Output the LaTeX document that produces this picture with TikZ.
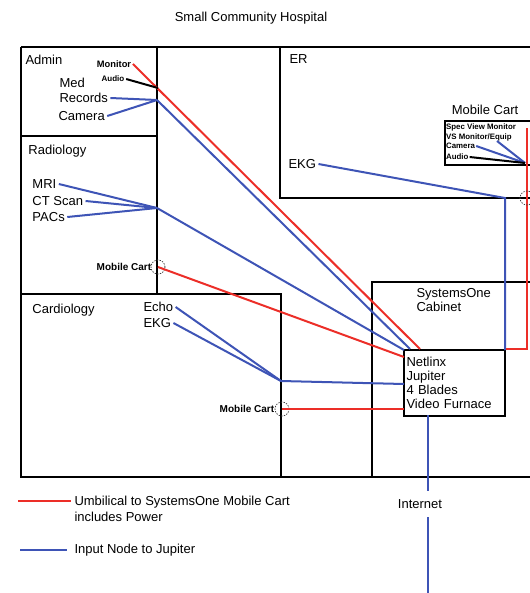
\documentclass[tikz,border=0pt]{standalone}
\usepackage{fontspec}
\setmainfont{Liberation Sans}
\definecolor{umbred}{RGB}{236,46,40}
\definecolor{inblue}{RGB}{62,84,182}
\tikzset{every picture/.style={line width=0.75pt}}
\tikzset{
  wall/.style={draw=black, line width=2pt},
  umb/.style={draw=umbred, line width=1.5pt},
  inp/.style={draw=inblue, line width=1.5pt},
  aud/.style={draw=black, line width=1.5pt},
  lbl/.style={font=\fontsize{9.75}{10.5}\selectfont, inner sep=1.5pt, align=left},
  tinylbl/.style={font=\fontsize{7}{8}\selectfont\bfseries, inner sep=1pt},
  cartlbl/.style={font=\fontsize{5.9}{7}\selectfont\bfseries, inner sep=0.5pt},
  plug/.style={draw=black!75, dash pattern=on 1pt off 1pt, line width=0.6pt, circle, minimum size=10.5pt, inner sep=0pt}
}

\begin{document}
\begin{tikzpicture}[
            x=0.75pt,
            y=0.75pt,
            yscale=-1,
            xscale=1,
            every node/.style={text=black},
            line width=0.75pt
        ]
            \useasboundingbox (0,0) rectangle (530,593);
            \node[lbl] (title) at (251,18) {Small Community Hospital};

            % rooms
            \draw[wall] (21,47) -- (540,47);
            \draw[wall] (21,47) -- (21,477) -- (540,477);
            \draw[wall] (21,136) -- (157,136);
            \draw[wall] (157,47) -- (157,294);
            \draw[wall] (21,294) -- (281,294) -- (281,477);
            \draw[wall] (280,47) -- (280,198) -- (540,198);
            \draw[wall] (372,477) -- (372,282) -- (540,282);
            \draw[line width=1.5pt] (445,121) rectangle (540,165);

            % room labels
            \node[lbl, anchor=west] (admin) at (23,60) {Admin};
            \node[lbl, anchor=west] (radiology) at (26,151) {Radiology};
            \node[lbl, anchor=west] (cardiology) at (30,310) {Cardiology};
            \node[lbl, anchor=west] (er) at (287,59) {ER};
            \node[lbl, anchor=west] (cabinet) at (414,300) {SystemsOne\\Cabinet};
            \node[lbl] (carthead) at (485,110) {Mobile Cart};

            % jupiter
            \node[draw, line width=1.5pt, fill=white, anchor=north west, minimum width=75.75pt, minimum height=49.5pt, text width=72pt, inner sep=1.5pt, align=left, font=\fontsize{9.75}{10.5}\selectfont] (jupiter) at (403,349) {Netlinx\\Jupiter\\4 Blades\\Video Furnace};
            \coordinate (jmon) at (420,349);
            \coordinate (jadm) at (410,349);
            \coordinate (jrad) at (404,350);
            \coordinate (jrcart) at (404,357);
            \coordinate (jcard) at (404,384);
            \coordinate (jccart) at (404,409);
            \coordinate (jer) at (505,350);
            \coordinate (jnet) at (428,415);

            % admin inputs
            \node[tinylbl] (monitor) at (114,64) {Monitor};
            \node[tinylbl, font=\fontsize{6}{7}\selectfont\bfseries] (audio) at (113,79) {Audio};
            \node[lbl, anchor=west] (med) at (57,83) {Med};
            \node[lbl, anchor=west] (records) at (57,98) {Records};
            \node[lbl, anchor=west] (camera) at (56,116) {Camera};
            \coordinate (admjoin) at (158,88);
            \coordinate (admhub) at (157,100);
            \draw[umb] (monitor.east) -- (jmon);
            \draw[aud] (audio.east) -- (admjoin);
            \draw[inp] (records.east) -- (admhub);
            \draw[inp] (camera.east) -- (admhub);
            \draw[inp] (admhub) -- (jadm);

            % radiology inputs
            \node[lbl, anchor=west] (mri) at (30,184) {MRI};
            \node[lbl, anchor=west] (ctscan) at (30,201) {CT Scan};
            \node[lbl, anchor=west] (pacs) at (30,217) {PACs};
            \coordinate (radhub) at (157,208);
            \draw[inp] (mri.east) -- (radhub);
            \draw[inp] (ctscan.east) -- (radhub);
            \draw[inp] (pacs.east) -- (radhub);
            \draw[inp] (radhub) -- (jrad);
            \node[tinylbl, font=\fontsize{7.5}{8}\selectfont\bfseries, anchor=east] (radcart) at (153,267) {Mobile Cart};
            \node[plug] (radplug) at (158,267) {};
            \draw[umb] (radplug.center) -- (jrcart);

            % cardiology inputs
            \node[lbl, anchor=west] (echo) at (141,307) {Echo};
            \node[lbl, anchor=west] (cardekg) at (141,323) {EKG};
            \coordinate (cardhub) at (281,381);
            \draw[inp] (echo.east) -- (cardhub);
            \draw[inp] (cardekg.east) -- (cardhub);
            \draw[inp] (cardhub) -- (jcard);
            \node[tinylbl, font=\fontsize{7.5}{8}\selectfont\bfseries, anchor=east] (cardcart) at (276,409) {Mobile Cart};
            \node[plug] (cardplug) at (282,409) {};
            \draw[umb] (cardplug.center) -- (jccart);

            % ER inputs
            \node[lbl, anchor=west] (erekg) at (286,164) {EKG};
            \coordinate (erbend) at (505,198);
            \draw[inp] (erekg.east) -- (erbend) -- (jer);
            \node[cartlbl, anchor=west] (specview) at (445,127) {Spec View Monitor};
            \node[cartlbl, anchor=west] (vsmon) at (445,137) {VS Monitor/Equip};
            \node[cartlbl, anchor=west] (cartcam) at (445,146) {Camera};
            \node[cartlbl, anchor=west] (cartaud) at (445,157) {Audio};
            \coordinate (vsfoot) at (497,141);
            \coordinate (carthub) at (525,163);
            \coordinate (cartumb) at (527,128);
            \draw[inp] (vsfoot) -- (carthub);
            \draw[inp] (cartcam.east) -- (carthub);
            \draw[aud] (cartaud.east) -- (carthub);
            \draw[umb] (cartumb) |- (jupiter.north east);
            \node[plug] (erplug) at (527,198) {};

            % internet
            \node[lbl, inner ysep=6pt] (internet) at (420,504) {Internet};
            \coordinate (netend) at (428,593);
            \draw[inp] (jnet) -- (internet.north -| jnet);
            \draw[inp] (internet.south -| jnet) -- (netend);

            % legend
            \coordinate (umbkey) at (18,501);
            \coordinate (inpkey) at (20,550);
            \draw[umb] (umbkey) -- ++(53,0);
            \draw[inp] (inpkey) -- ++(47,0);
            \node[lbl, anchor=north west, font=\fontsize{9.75}{12}\selectfont] (umblegend) at (72,494) {Umbilical to SystemsOne Mobile Cart\\includes Power};
            \node[lbl, anchor=west] (inplegend) at (72,550) {Input Node to Jupiter};
        \end{tikzpicture}
\end{document}
